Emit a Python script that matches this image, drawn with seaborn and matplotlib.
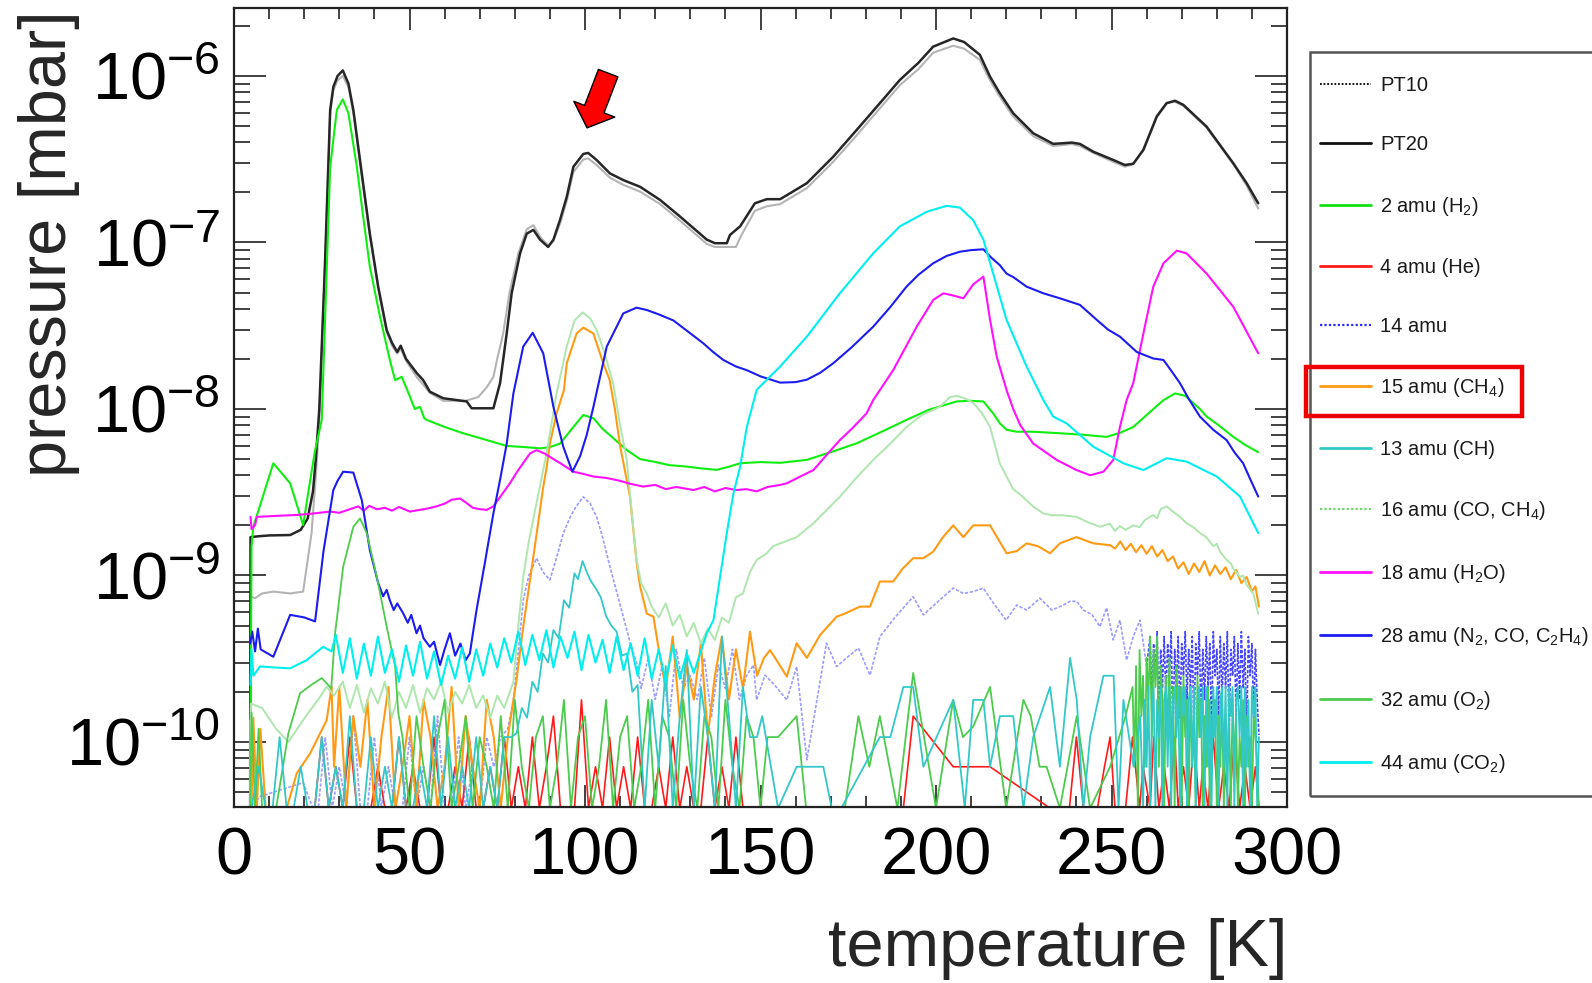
import matplotlib
matplotlib.use("Agg")
import matplotlib.pyplot as plt
import seaborn as sns
from matplotlib.lines import Line2D
from matplotlib.patches import Rectangle, FancyArrowPatch
from matplotlib.ticker import FixedLocator, LogLocator, LogFormatterMathtext, MultipleLocator, NullFormatter

# ---------------- data (temperature [K], pressure [mbar]) ----------------
Z = 4.0e-11      # reading at / below the axis floor
Q2, Q3, Q4, Q5, Q6 = 7.1e-11, 1.07e-10, 1.43e-10, 1.79e-10, 2.14e-10
Q7, Q8, Q9, Q10, Q12 = 2.5e-10, 2.86e-10, 3.2e-10, 3.57e-10, 4.3e-10

x_ticks = [0, 50, 100, 150, 200, 250, 300]
y_ticks = [1e-10, 1e-9, 1e-8, 1e-7, 1e-6]

pt20 = [(4.6, Z), (4.7, 1.7e-9), (7, 1.72e-9), (10, 1.74e-9), (16, 1.75e-9), (19, 1.88e-9), (21, 2.2e-9),
        (22.5, 3.2e-9), (23.3, 5e-9), (24.3, 1.0e-8), (25.9, 7.2e-8), (27.4, 6.25e-7), (28.3, 8.6e-7),
        (29.5, 1.0e-6), (31.0, 1.08e-6), (32.6, 9.0e-7), (34.0, 6.25e-7), (36.4, 2.6e-7), (38.7, 1.13e-7),
        (41.1, 5.4e-8), (43.5, 2.98e-8), (45.0, 2.5e-8), (46.5, 2.2e-8), (47.5, 2.4e-8), (49.0, 2.0e-8),
        (52.1, 1.64e-8), (53.9, 1.49e-8), (55.8, 1.27e-8), (59.6, 1.16e-8), (66.3, 1.11e-8), (67.7, 1.01e-8),
        (73.9, 1.01e-8), (75.8, 1.43e-8), (77.7, 2.85e-8), (79.1, 4.95e-8), (81.5, 8.6e-8), (83.4, 1.13e-7),
        (85.3, 1.19e-7), (87.2, 1.04e-7), (89.5, 9.4e-8), (91.0, 1.04e-7), (92.9, 1.37e-7), (94.8, 1.88e-7),
        (96.7, 2.85e-7), (99.5, 3.4e-7), (100.9, 3.45e-7), (103.3, 3.13e-7), (107.1, 2.6e-7), (110.9, 2.37e-7),
        (115.7, 2.16e-7), (121.4, 1.80e-7), (127.1, 1.43e-7), (134.7, 1.04e-7), (137.0, 9.9e-8), (140.4, 9.9e-8),
        (141.3, 1.11e-7), (144.2, 1.25e-7), (148.4, 1.72e-7), (151.8, 1.82e-7), (155.6, 1.82e-7), (163.2, 2.27e-7),
        (170.7, 3.27e-7), (177.4, 4.74e-7), (184.0, 6.86e-7), (189.7, 9.46e-7), (195.0, 1.2e-6), (199.2, 1.50e-6),
        (204.9, 1.68e-6), (208.0, 1.6e-6), (212.5, 1.34e-6), (215.4, 9.9e-7), (218.2, 7.87e-7), (222.0, 5.97e-7),
        (227.7, 4.53e-7), (233.4, 3.91e-7), (238.7, 3.98e-7), (241.0, 3.91e-7), (244.8, 3.51e-7), (250.5, 3.13e-7),
        (253.8, 2.92e-7), (256.2, 2.97e-7), (259.1, 3.6e-7), (262.9, 5.7e-7), (265.7, 6.86e-7), (268.1, 7.1e-7),
        (270.5, 6.7e-7), (277.1, 4.96e-7), (284.7, 2.99e-7), (288.5, 2.27e-7), (291.8, 1.72e-7)]

pt10 = [(4.6, Z), (4.7, 7.5e-10), (6, 7.3e-10), (8, 7.8e-10), (11.2, 8.0e-10), (16, 7.8e-10), (19.7, 8.0e-10),
        (22.1, 1.8e-9), (23.5, 4.5e-9), (24.3, 8.6e-9), (25.9, 7.0e-8), (27.4, 6.0e-7), (28.3, 8.2e-7),
        (29.5, 9.4e-7), (31, 1.0e-6), (32.6, 8.6e-7), (34, 6.0e-7), (36.4, 2.5e-7), (38.7, 1.1e-7), (41.1, 5.3e-8),
        (43.5, 2.9e-8), (45, 2.4e-8), (46.5, 2.15e-8), (47.5, 2.3e-8), (49, 1.95e-8), (52.1, 1.55e-8),
        (53.9, 1.4e-8), (55.8, 1.25e-8), (59.6, 1.12e-8), (66, 1.12e-8), (69.6, 1.18e-8), (72, 1.35e-8),
        (73.9, 1.56e-8), (75, 2.0e-8), (76.7, 2.85e-8), (78.5, 5.0e-8), (81, 8.6e-8), (83.4, 1.2e-7),
        (85.3, 1.27e-7), (87.2, 1.08e-7), (89.5, 9.6e-8), (91, 1.02e-7), (92.9, 1.3e-7), (94.8, 1.78e-7),
        (96.7, 2.65e-7), (99.5, 3.15e-7), (100.9, 3.2e-7), (103.3, 2.92e-7), (107.1, 2.45e-7), (110.9, 2.22e-7),
        (115.7, 2.02e-7), (121.4, 1.7e-7), (127.1, 1.35e-7), (134.7, 9.8e-8), (137, 9.4e-8), (140.4, 9.4e-8),
        (143, 9.4e-8), (144.5, 1.1e-7), (148.4, 1.55e-7), (151.8, 1.65e-7), (155.6, 1.7e-7), (163.2, 2.12e-7),
        (170.7, 3.05e-7), (177.4, 4.4e-7), (184, 6.4e-7), (189.7, 8.8e-7), (195, 1.1e-6), (199.2, 1.38e-6),
        (204.9, 1.52e-6), (208, 1.46e-6), (212.5, 1.25e-6), (215.4, 9.4e-7), (218.2, 7.5e-7), (222, 5.7e-7),
        (227.7, 4.35e-7), (233.4, 3.8e-7), (238.7, 3.9e-7), (241, 3.8e-7), (244.8, 3.45e-7), (250.5, 3.05e-7),
        (253.8, 2.85e-7), (256.2, 2.95e-7), (259.1, 3.65e-7), (262.9, 5.8e-7), (265.7, 6.9e-7), (268.1, 7.0e-7),
        (270.5, 6.6e-7), (277.1, 4.9e-7), (284.7, 2.95e-7), (288.5, 2.2e-7), (291.8, 1.6e-7)]

h2 = [(4.6, Z), (5, 1.49e-9), (5.5, 1.96e-9), (11.2, 4.72e-9), (16, 3.58e-9), (19.7, 2.01e-9), (21.5, 3.5e-9),
      (23, 5.5e-9), (25, 8.6e-9), (26.2, 5e-8), (27.4, 2.85e-7), (29.3, 6.25e-7), (31, 7.24e-7), (32.6, 5.97e-7),
      (35, 2.85e-7), (36.8, 1.43e-7), (38.7, 7.16e-8), (41.6, 3.58e-8), (44.4, 1.97e-8), (45.9, 1.49e-8),
      (47.8, 1.56e-8), (50.1, 1.19e-8), (51.5, 1.0e-8), (53, 1.03e-8), (54.2, 8.8e-9), (54.9, 8.6e-9),
      (60, 7.8e-9), (65.3, 7.15e-9), (71, 6.6e-9), (77.7, 6.0e-9), (83, 5.9e-9), (87.2, 5.8e-9), (90, 5.9e-9),
      (92.9, 6.2e-9), (96.7, 7.8e-9), (99.5, 9.2e-9), (102.4, 8.8e-9), (105, 7.6e-9), (108.1, 6.67e-9),
      (111.9, 5.67e-9), (115.7, 5.0e-9), (119.5, 4.83e-9), (124, 4.6e-9), (129, 4.51e-9), (133, 4.4e-9),
      (137.5, 4.31e-9), (141, 4.5e-9), (144.2, 4.72e-9), (150, 4.8e-9), (155.6, 4.75e-9), (163.2, 4.95e-9),
      (170, 5.5e-9), (177.4, 6.22e-9), (184.5, 7.3e-9), (191.6, 8.6e-9), (198, 9.9e-9), (205.9, 1.11e-8),
      (209.5, 1.12e-8), (213.5, 1.11e-8), (216.3, 9.4e-9), (218.2, 8.2e-9), (220.1, 7.5e-9), (223, 7.3e-9),
      (227.7, 7.3e-9), (235.3, 7.15e-9), (242, 7.0e-9), (248.6, 6.8e-9), (252.5, 7.2e-9), (256.2, 7.8e-9),
      (260, 9.2e-9), (264.8, 1.13e-8), (268.1, 1.24e-8), (271, 1.2e-8), (275.2, 1.0e-8), (277.1, 9.0e-9),
      (280.5, 8.0e-9), (284.7, 6.8e-9), (288, 6.1e-9), (291.8, 5.5e-9)]

he_t1 = [5, 7, 9, 11, 13, 15, 17, 19, 21, 23, 25, 27, 29, 31, 33, 35, 37, 39, 41, 43, 45, 47, 49, 51, 53,
         55, 57, 59, 61, 63, 65, 67, 69, 71, 73, 75, 77, 79, 81, 83, 85, 87, 89, 91, 93, 95, 97, 99, 101, 103,
         105, 107, 109, 111, 113, 115, 117, 119, 121, 123, 125, 127, 129, 131, 133, 135, 137, 139, 141, 143,
         145, 147, 149]
he_v1 = [Z, Z, Z, Z, Z, Z, Z, Z, Z, Z,
         Q3, Z, Q2, Z, Q3, Z, Z, Z, Q2, Z,
         Z, Q3, Z, Q2, Z, Z, Q3, Z, Z, Q2,
         Z, Q3, Z, Z, Q2, Z, Q3, Z, Q2, Z,
         Q3, Z, Q2, Q4, Z, Z, Z, Q5, Z, Q2,
         Z, Q3, Z, Q2, Z, Q3, Z, Z, Q2, Z,
         Q3, Z, Q2, Z, Z, Q3, Z, Q2, Z, Q3,
         Z, Z, Z]
he_rest = [(151, Z), (190.7, Z), (193.5, Q4), (204.9, Q2), (215.4, Q2), (232.5, Z), (238, Z), (240, Q3),
           (242, Z), (246, Z), (248, Q2), (249.6, Q3), (251, Z), (254, Z), (256, Q3), (258, Z), (259, Q2),
           (261, Z), (262, Q3), (263.5, Z), (265, Q2), (266.5, Z), (268, Q3), (269, Z), (270.5, Q2), (272, Z),
           (273.5, Q3), (275, Z), (276, Q2), (277.5, Z), (279, Q3), (280.5, Z), (282, Q2), (283.5, Z),
           (285, Q3), (286.5, Z), (288, Q2), (289.5, Z), (291, Q2), (292, Z)]

n14_low = [(4.6, Z), (7.4, 4.7e-11), (19.7, 5.7e-11), (22.5, Z)]
n14_t1 = [24, 26, 28, 30, 32, 34, 36, 38, 40, 42, 44, 46, 48, 50, 52, 54, 56, 58, 60, 62, 64, 66, 68, 70, 72,
          74, 76]
n14_v1 = [Z, Q3, Z, Q2, Z, Q4, Z, Z, Q3, Z, Q2, Z, Z, Q3, Z, Q2, Z, Q4, Z, Z, Q3, Z, Q2, Z, Q3, Q2, Q3]
n14_hump = [(78, 1.2e-10), (79.6, 1.79e-10), (81, 3.5e-10), (82.4, 7.1e-10), (84, 1.0e-9), (86.2, 1.27e-9),
            (88, 1.05e-9), (90, 9.4e-10), (92, 1.3e-9), (93.8, 1.79e-9), (96, 2.3e-9), (97.5, 2.6e-9),
            (99.5, 2.97e-9), (101.5, 2.7e-9), (103.3, 2.25e-9), (105, 1.7e-9), (107.1, 1.13e-9), (109, 8.0e-10),
            (110.9, 5.66e-10), (112.8, 4.0e-10), (114.7, 2.97e-10)]
n14_t2 = [116, 118, 120, 122, 124, 126, 128, 130, 132, 134, 136, 138, 140, 142, 144, 146, 148]
n14_v2 = [2.1e-10, 3.2e-10, 1.8e-10, 2.9e-10, 1.4e-10, 3.6e-10, 2.1e-10, 2.5e-10, 1.8e-10, 3.2e-10, 1.4e-10,
          2.9e-10, 2.1e-10, 3.6e-10, 1.8e-10, 2.5e-10, 2.9e-10]
n14_mid = [(148.9, 1.79e-10), (151.3, 2.52e-10), (154, 2.2e-10), (157.5, 1.79e-10), (160.3, 2.84e-10),
           (163.2, 7.8e-11), (168.8, 3.92e-10), (171.7, 2.84e-10), (174.5, 3.2e-10), (177.9, 3.66e-10),
           (181.2, 2.52e-10), (184, 4.28e-10), (188, 5.5e-10), (193.5, 7.46e-10), (196.4, 5.8e-10),
           (200, 6.8e-10), (204.9, 8.4e-10), (207.8, 7.8e-10), (210.5, 8.0e-10), (213.5, 8.4e-10), (216, 7.0e-10),
           (219.2, 5.66e-10), (220, 5.4e-10), (223, 6.65e-10), (225.8, 6.2e-10), (229.6, 7.3e-10), (233, 6.2e-10),
           (236, 6.6e-10), (238.2, 7.0e-10), (240, 7.0e-10), (242, 6.2e-10), (244.5, 5.8e-10), (246.7, 4.93e-10),
           (248.6, 6.4e-10), (250.5, 4.1e-10), (252.4, 5.4e-10), (254.3, 3.1e-10), (256.2, 4.3e-10),
           (258.1, 5.4e-10), (260, 2.84e-10)]
n14_t3 = [260, 261, 261.5, 262, 262.5, 263, 263.5, 264, 264.5, 265, 265.5, 266, 266.5, 267, 267.5, 268, 268.5,
          269, 269.5, 270, 270.5, 271, 271.5, 272, 272.5, 273, 273.5, 274, 274.5, 275, 275.5, 276, 276.5, 277,
          277.5, 278, 278.5, 279, 279.5, 280, 280.5, 281, 281.5, 282, 282.5, 283, 283.5, 284, 284.5, 285, 285.5,
          286, 286.5, 287, 287.5, 288, 288.5, 289, 289.5, 290, 290.5, 291, 291.5, 292]
n14_v3 = [2.84e-10,
          4.3e-10, 1.8e-10, 3.9e-10, 2.5e-10, 4.6e-10, 1.4e-10, 3.6e-10, 2.1e-10, 4.3e-10, 1.8e-10,
          3.9e-10, 2.5e-10, 4.6e-10, 1.1e-10, 3.6e-10, 2.1e-10, 4.3e-10, 1.4e-10, 3.9e-10, 2.5e-10,
          4.6e-10, 1.8e-10, 3.6e-10, 2.1e-10, 4.3e-10, 1.1e-10, 3.9e-10, 2.5e-10, 4.6e-10, 1.4e-10,
          3.6e-10, 1.8e-10, 4.3e-10, 2.1e-10, 3.9e-10, 1.1e-10, 4.6e-10, 2.5e-10, 3.6e-10, 1.4e-10,
          4.3e-10, 1.8e-10, 3.9e-10, 2.1e-10, 4.6e-10, 1.1e-10, 3.6e-10, 2.5e-10, 4.3e-10, 1.4e-10,
          3.9e-10, 1.8e-10, 4.6e-10, 2.1e-10, 3.6e-10, 1.1e-10, 4.3e-10, 2.5e-10, 3.9e-10, 1.4e-10,
          3.6e-10, 1.8e-10, 1.1e-10]

ch4_low = [(4.6, 1.35e-10), (5, Z), (5.5, 1.4e-10), (6.5, Z), (7.5, 1.2e-10), (9, Z), (15, Z), (17.9, 6.5e-11),
           (21.7, 8.55e-11), (26.4, 1.35e-10), (27.8, 2.15e-10), (28.5, Q2)]
ch4_t1 = [30, 32, 34, 36, 38, 40, 42, 44, 46, 48, 50, 52, 54, 56, 58, 60, 62, 64, 66, 68, 70, 72, 74, 76, 78]
ch4_v1 = [Q6, Z, Q4, Q2, Q5, Z, Q3, Q6, Z, Q2, Q4, Z, Q5, Q3, Z, Q2, Q6, Z, Q4, Q2, Z, Q5, Q3, Z, Q3]
ch4_peak = [(80.5, 2.36e-10), (82.4, 4.93e-10), (85.3, 1.3e-9), (88.1, 3.4e-9), (89.1, 4.5e-9), (90, 6.2e-9),
            (91.9, 9.4e-9), (94, 1.3e-8), (94.8, 1.88e-8), (97.6, 2.84e-8), (99.5, 3.08e-8), (102.4, 2.84e-8),
            (105.2, 1.88e-8), (107, 1.5e-8), (108.5, 1.0e-8), (110, 6.0e-9), (112.8, 3.0e-9), (114.7, 1.2e-9),
            (115.7, 8.6e-10), (117.6, 5.9e-10), (119.5, 5.66e-10)]
ch4_t2 = [121, 123, 125, 127, 129, 131, 133, 135, 137, 139, 141, 143, 145, 147, 149]
ch4_v2 = [3.6e-10, 2.1e-10, 4.3e-10, 1.4e-10, 2.9e-10, 1.8e-10, 3.9e-10, 1.1e-10, 2.5e-10, 4.3e-10, 1.8e-10,
          3.6e-10, 2.1e-10, 4.6e-10, 2.5e-10]
ch4_tail = [(151, 3.2e-10), (152.7, 3.56e-10), (155, 3.0e-10), (157.5, 2.47e-10), (160.3, 3.92e-10),
            (163.2, 3.2e-10), (167, 4.4e-10), (171.7, 5.66e-10), (174, 5.9e-10), (178.3, 6.5e-10),
            (181.2, 6.5e-10), (184, 9.2e-10), (187.8, 9.2e-10), (190.5, 1.1e-9), (193.5, 1.27e-9),
            (196.4, 1.27e-9), (199.2, 1.39e-9), (202, 1.7e-9), (204.9, 2.0e-9), (207.8, 1.7e-9), (210.6, 2.0e-9),
            (215.4, 2.0e-9), (220.1, 1.36e-9), (223, 1.4e-9), (225.8, 1.56e-9), (229, 1.5e-9), (232.5, 1.36e-9),
            (235.3, 1.56e-9), (240, 1.7e-9), (244.8, 1.56e-9), (249.6, 1.52e-9), (251, 1.45e-9), (252.5, 1.6e-9),
            (254, 1.42e-9), (255.5, 1.55e-9), (257, 1.38e-9), (258.5, 1.52e-9), (260, 1.35e-9), (261.5, 1.5e-9),
            (263, 1.3e-9), (264.5, 1.42e-9), (266, 1.22e-9), (267.5, 1.3e-9), (269, 1.1e-9), (270.5, 1.2e-9),
            (272, 1.02e-9), (273.5, 1.18e-9), (275, 1.05e-9), (276.5, 1.22e-9), (278, 1.0e-9), (279.5, 1.15e-9),
            (281, 1.02e-9), (282.5, 1.12e-9), (284, 9.5e-10), (285.5, 1.08e-9), (287, 9.0e-10), (288.5, 9.8e-10),
            (290, 8.0e-10), (291, 8.6e-10), (292, 6.5e-10)]

ch_t1 = [5, 7, 9, 11, 13, 15, 17, 19, 21, 23, 25, 27, 29, 31, 33, 35, 37, 39, 41, 43, 45, 47, 49, 51, 53, 55,
         57, 59, 61, 63, 65, 67, 69, 71, 73, 75, 77, 79]
ch_v1 = [Z, Q2, Z, Z, Q3, Z, Z, Q2, Z, Z,
         Q3, Z, Q2, Z, Q4, Z, Z, Q3, Z, Q2,
         Z, Q3, Z, Z, Q2, Z, Q4, Z, Q3, Z,
         Q2, Z, Q3, Z, Q2, Z, Q3, Q3]
ch_hump = [(80.5, 1.13e-10), (82, 1.6e-10), (83.5, 1.4e-10), (85, 2.3e-10), (86.5, 2.0e-10), (88, 3.4e-10),
           (89.5, 3.0e-10), (91, 4.7e-10), (92.5, 4.2e-10), (94, 7.1e-10), (95.5, 6.4e-10), (97, 1.03e-9),
           (98, 9.5e-10), (99.3, 1.22e-9), (100.5, 1.05e-9), (101.5, 9.4e-10), (103, 8.4e-10), (104.5, 7.4e-10),
           (106, 5.7e-10), (107.5, 5.0e-10), (109, 4.6e-10), (110.5, 3.3e-10), (112, 3.4e-10), (113.5, 2.0e-10),
           (115, 2.2e-10)]
ch_t2 = [117, 119, 121, 123, 125, 127, 129, 131, 133, 135, 137, 139, 141, 143, 145, 147, 149]
ch_v2 = [Z, Q5, Q2, Q8, Z, Q4, Q10, Z, Q6, Q3, Z, Q12, Q4, Z, Q6, Q3, Q3]
ch_mid = [(150.5, Q4), (155, Z), (160.3, Q2), (167.9, Q2), (170.3, Z), (173, Z), (184, Q3), (187, Q3),
          (190.7, Q6), (193.5, Q6), (196.4, Q2), (204.9, Q5), (208.2, Z), (210.6, Q5), (213.5, Q5),
          (215.4, Q2), (218.2, Q4), (222, Q4), (224.9, Z), (227.7, Q3), (232.5, Q6), (235.3, Q2), (238.2, Q9),
          (240.1, Q5), (242, Z), (243.9, Q3), (247.7, Q7), (250.6, Q7), (252, Z), (253.4, Q5), (256.3, Q2),
          (258.2, Q4)]
ch_t3 = [259, 259.5, 260, 260.5, 261, 261.5, 262, 262.5, 263, 263.5, 264, 264.5, 265, 265.5, 266, 266.5, 267,
         267.5, 268, 268.5, 269, 269.5, 270, 270.5, 271, 271.5, 272, 272.5, 273, 273.5, 274, 274.5, 275, 275.5,
         276, 276.5, 277, 277.5, 278, 278.5, 279, 279.5, 280, 280.5, 281, 281.5, 282, 282.5, 283, 283.5, 284,
         284.5, 285, 285.5, 286, 286.5, 287, 287.5, 288, 288.5, 289, 289.5, 290, 290.5, 291, 291.5, 292]
ch_v3 = [Z, Q5, Q2, Q6, Z, Q4, Q6, Z, Q5, Q3,
         Q6, Z, Q5, Q6, Q2, Q6, Z, Q5, Q6, Q3,
         Q6, Z, Q6, Q4, Q6, Z, Q5, Q6, Q2, Q6,
         Z, Q5, Q6, Q3, Q6, Z, Q6, Q2, Q5, Z,
         Q6, Q3, Q6, Z, Q5, Q6, Q2, Q6, Z, Q6,
         Q4, Q6, Z, Q5, Q6, Q3, Q6, Z, Q6, Q2,
         Q5, Z, Q6, Q4, Q6, Z, Q3]

co_low = [(4.6, Z), (4.8, 1.7e-10), (8, 1.6e-10), (12, 1.2e-10), (15.5, 1.0e-10), (18, 1.2e-10),
          (20.7, 1.45e-10), (24, 1.8e-10), (26.4, 2.15e-10), (28.5, 1.9e-10), (31, 2.3e-10)]
co_t1 = [33, 35, 37, 39, 41, 43, 45, 47, 49, 51, 53, 55, 57, 59, 61, 63, 65, 67, 69, 71, 73, 75, 77]
co_v1 = [1.6e-10, 2.2e-10, 1.5e-10, 2.1e-10, 1.7e-10, 2.3e-10, 1.4e-10, 2.0e-10, 1.6e-10, 2.2e-10, 1.5e-10,
         2.1e-10, 1.8e-10, 2.3e-10, 1.5e-10, 2.0e-10, 1.7e-10, 2.2e-10, 1.6e-10, 1.9e-10, 1.4e-10, 1.9e-10,
         1.6e-10]
co_rest = [(79.6, 2.3e-10), (81, 5e-10), (82.4, 9.8e-10), (84, 1.6e-9), (86, 2.6e-9), (88, 4.2e-9),
           (89.1, 5.5e-9), (91.9, 1.24e-8), (94.8, 2.37e-8), (97, 3.4e-8), (99.3, 3.8e-8), (101.5, 3.5e-8),
           (103.3, 2.98e-8), (105.5, 2.2e-8), (108.1, 1.4e-8), (110, 8e-9), (111.9, 4.95e-9), (113.3, 2.4e-9),
           (114.7, 1.24e-9), (116, 9e-10), (117.6, 7.8e-10), (119, 6.5e-10), (121, 5.6e-10), (123, 6.8e-10),
           (125, 5.0e-10), (127, 5.8e-10), (129, 4.3e-10), (131, 5.2e-10), (133, 3.9e-10), (135, 4.8e-10),
           (137, 4.1e-10), (139, 5.6e-10), (141, 5.2e-10), (143, 7.4e-10), (145, 7.8e-10), (147, 1.05e-9),
           (148.9, 1.24e-9), (151.8, 1.36e-9), (153.6, 1.5e-9), (157, 1.6e-9), (160.3, 1.7e-9), (165.1, 2.06e-9),
           (172.6, 2.97e-9), (177, 3.8e-9), (182.1, 4.94e-9), (187, 6.2e-9), (191.6, 7.8e-9), (196, 9.2e-9),
           (201.1, 1.03e-8), (204, 1.18e-8), (206, 1.2e-8), (208.5, 1.15e-8), (210.6, 1.09e-8), (213, 9.5e-9),
           (215.4, 7.8e-9), (218.2, 4.7e-9), (222, 3.3e-9), (224.5, 3.0e-9), (227.7, 2.59e-9), (230.6, 2.36e-9),
           (233, 2.3e-9), (236, 2.3e-9), (240, 2.25e-9), (243, 2.1e-9), (246.7, 1.96e-9), (249.5, 2.05e-9),
           (251, 1.85e-9), (252.4, 1.98e-9), (254, 1.88e-9), (256.2, 2.0e-9), (258, 1.95e-9), (259.5, 2.15e-9),
           (261.9, 2.31e-9), (263, 2.2e-9), (264, 2.5e-9), (265.7, 2.6e-9), (267.6, 2.41e-9), (269.5, 2.25e-9),
           (271.4, 2.06e-9), (273.3, 1.95e-9), (275.2, 1.8e-9), (277, 1.7e-9), (279, 1.5e-9), (280, 1.55e-9),
           (281, 1.38e-9), (282.8, 1.24e-9), (284, 1.18e-9), (284.7, 1.1e-9), (286.6, 9.8e-10), (287.5, 1.0e-9),
           (288.5, 8.8e-10), (290.4, 7.8e-10), (291.8, 5.9e-10)]

h2o = [(4.7, 2.25e-9), (5, 1.9e-9), (6, 2.0e-9), (6.5, 2.25e-9), (12, 2.28e-9), (17.9, 2.31e-9), (22, 2.35e-9),
       (27.4, 2.42e-9), (30, 2.38e-9), (33, 2.5e-9), (35.4, 2.6e-9), (37, 2.45e-9), (38.5, 2.62e-9),
       (40.7, 2.5e-9), (43, 2.55e-9), (45, 2.45e-9), (47, 2.58e-9), (50.1, 2.42e-9), (53, 2.48e-9),
       (55, 2.52e-9), (57.7, 2.6e-9), (60, 2.7e-9), (62, 2.85e-9), (64.4, 2.9e-9), (66, 2.75e-9), (68, 2.55e-9),
       (70.1, 2.5e-9), (72, 2.48e-9), (73.9, 2.6e-9), (76, 3.0e-9), (78.6, 3.58e-9), (81, 4.3e-9),
       (84.3, 5.4e-9), (86.2, 5.66e-9), (88.5, 5.4e-9), (91, 5.0e-9), (93, 4.72e-9), (96.7, 4.2e-9),
       (99, 4.1e-9), (102.4, 3.93e-9), (106.2, 3.85e-9), (110, 3.7e-9), (113, 3.55e-9), (116.6, 3.42e-9),
       (120, 3.5e-9), (123, 3.3e-9), (126, 3.4e-9), (130.9, 3.26e-9), (134, 3.4e-9), (137, 3.2e-9),
       (140, 3.35e-9), (143.2, 3.26e-9), (146, 3.3e-9), (148.9, 3.2e-9), (152, 3.4e-9), (155.6, 3.5e-9),
       (157.5, 3.58e-9), (161, 3.9e-9), (165.1, 4.3e-9), (168.5, 5.2e-9), (172.6, 6.5e-9), (176, 7.6e-9),
       (180.2, 9.4e-9), (182.1, 1.13e-8), (187.8, 1.71e-8), (194.5, 3.12e-8), (199.2, 4.52e-8),
       (202.1, 4.95e-8), (205, 4.8e-8), (207.8, 4.62e-8), (210.6, 5.6e-8), (213.5, 6.24e-8), (215.4, 3.43e-8),
       (217.3, 2.06e-8), (220.1, 1.3e-8), (222, 1.0e-8), (224, 8.0e-9), (227.7, 6.2e-9), (234.4, 4.94e-9),
       (240, 4.3e-9), (243.9, 4.0e-9), (247.7, 4.2e-9), (250.5, 4.94e-9), (252.4, 7.8e-9), (254.3, 1.13e-8),
       (256.2, 1.43e-8), (259.1, 2.85e-8), (261.9, 5.43e-8), (264.8, 7.5e-8), (268.6, 8.93e-8), (271.4, 8.6e-8),
       (277.1, 6.5e-8), (284.7, 4.11e-8), (291.8, 2.16e-8)]

n2 = [(4.6, 3.9e-10), (5.2, 4.6e-10), (6, 3.5e-10), (6.8, 4.8e-10), (7.6, 3.6e-10), (11.2, 3.25e-10),
      (16, 5.8e-10), (20, 5.6e-10), (23.1, 5.3e-10), (25.5, 1.4e-9), (28.3, 3.26e-9), (29.5, 3.7e-9),
      (31.1, 4.2e-9), (34, 4.15e-9), (36.4, 2.84e-9), (38.7, 1.42e-9), (41.1, 8.97e-10), (42.5, 7.5e-10),
      (43.5, 8.2e-10), (44.4, 7.1e-10), (45.5, 6.2e-10), (46.5, 6.8e-10), (48.2, 5.93e-10), (49.5, 5.2e-10),
      (50.5, 5.8e-10), (52, 4.5e-10), (53, 5.0e-10), (54, 4.2e-10), (55.8, 3.73e-10), (57, 4.0e-10),
      (58.7, 2.9e-10), (60, 3.6e-10), (61.5, 4.5e-10), (63, 3.3e-10), (64.5, 3.9e-10), (66, 3.1e-10),
      (67.2, 3.4e-10), (68, 4.4e-10), (69.1, 6.2e-10), (71.5, 1.2e-9), (73.9, 2.36e-9), (75.8, 3.75e-9),
      (77.7, 6.2e-9), (79.6, 1.24e-8), (82.4, 2.37e-8), (85.1, 2.87e-8), (88.1, 2.16e-8), (91, 1.03e-8),
      (93.8, 5.94e-9), (96.4, 4.2e-9), (98.6, 5.2e-9), (100.5, 7.0e-9), (102.4, 1.03e-8), (106.2, 2.37e-8),
      (110.9, 3.75e-8), (114.7, 4.06e-8), (117.6, 3.93e-8), (121, 3.7e-8), (125.2, 3.4e-8), (129.5, 2.9e-8),
      (133.7, 2.48e-8), (136.5, 2.2e-8), (139.4, 1.97e-8), (143, 1.8e-8), (146.1, 1.71e-8), (150, 1.57e-8),
      (155.6, 1.44e-8), (160, 1.45e-8), (163.2, 1.5e-8), (167, 1.65e-8), (170.7, 1.88e-8), (176, 2.35e-8),
      (182.1, 3.12e-8), (187, 4.1e-8), (191.6, 5.43e-8), (195, 6.4e-8), (199.2, 7.5e-8), (203, 8.3e-8),
      (206.8, 8.8e-8), (210, 9.0e-8), (213.5, 9.1e-8), (215.5, 8.2e-8), (218.2, 7.3e-8), (220.1, 6.5e-8),
      (222, 6.2e-8), (225.8, 5.43e-8), (230.6, 4.95e-8), (235.3, 4.62e-8), (241, 4.22e-8), (245.8, 3.43e-8),
      (249, 3.0e-8), (252.4, 2.72e-8), (257.2, 2.2e-8), (261.9, 2.01e-8), (264.8, 1.97e-8), (267, 1.7e-8),
      (269.5, 1.43e-8), (272, 1.15e-8), (275.2, 9.0e-9), (279, 7.5e-9), (282.8, 6.5e-9), (285, 5.5e-9),
      (287.5, 4.72e-9), (289.5, 3.8e-9), (291.8, 2.98e-9)]

o2_low = [(4.6, Z), (5, 1.5e-10), (6, Z), (7, 1.2e-10), (8, Z), (12, Z), (15.5, 1.13e-10), (18.8, 1.96e-10),
          (22, 2.2e-10), (25, 2.42e-10), (27.7, 2.1e-10), (28.8, 4.5e-10), (31.1, 1.13e-9), (34, 1.96e-9),
          (35.9, 2.2e-9), (37.8, 1.8e-9), (40.7, 9.8e-10), (43.5, 4.93e-10), (45.9, 2.84e-10), (46.8, 1.5e-10)]
o2_t1 = [48, 50, 52, 54, 56, 58, 60, 62, 64, 66, 68, 70, 72, 74, 76, 78, 80, 82, 84, 86, 88, 90, 92, 94, 96,
         98, 100, 102, 104, 106, 108, 110, 112, 114, 116, 118, 120, 122, 124, 126, 128, 130, 132, 134, 136, 138,
         140, 142, 144, 146, 148, 150]
o2_v1 = [Q3, Z, Q4, Q2, Z, Q3, Q5, Z, Q2, Q4,
         Z, Q3, Q2, Z, Q4, Z, Q5, Q2, Z, Q3,
         Q4, Z, Q2, Q5, Z, Q3, Q4, Z, Q2, Q5,
         Z, Q3, Q4, Z, Q2, Q5, Z, Q4, Q3, Z,
         Q5, Q2, Z, Q4, Q3, Z, Q5, Q2, Z, Q4,
         Q3, Z]
o2_mid = [(152, Q3), (155, Q3), (160.3, Q4), (163, Z), (168, Z), (174, Z), (177.9, Q4), (181, Q2), (184, Q4),
          (189, Z), (193.5, 2.6e-10), (200, Z), (204.9, Q5), (207.7, Q3), (210.6, 1.24e-10), (215.4, Q6),
          (220, Z), (224.9, Q5), (227, Q4), (229.5, Q2), (231.5, Q2), (235.3, Z), (240.1, Q4), (243.9, Z),
          (249.6, Q2), (254, Q4)]
o2_t2 = [256, 256.5, 257, 257.5, 258, 258.5, 259, 259.5, 260, 260.5, 261, 261.5, 262, 262.5, 263, 263.5, 264,
         264.5, 265, 265.5, 266, 266.5, 267, 267.5, 268, 268.5, 269, 269.5, 270, 270.5, 271, 271.5, 272, 272.5,
         273, 273.5, 274, 274.5, 275, 275.5, 276, 276.5, 277, 277.5, 278, 278.5, 279, 279.5, 280, 280.5, 281,
         281.5, 282, 282.5, 283, 283.5, 284, 284.5, 285, 285.5, 286, 286.5, 287, 287.5, 288, 288.5, 289, 289.5,
         290, 290.5, 291, 291.5, 292]
o2_v2 = [Q6, Q2, Q8, Z, Q10, Q4, Q7, Q2, Q9, Q5,
         Q12, Q3, Q10, Q6, Q12, Q2, Q8, Q5, Z, Q7,
         Q3, Q9, Q2, Q6, Z, Q8, Q4, Q6, Z, Q7,
         Q3, Q5, Z, Q6, Q2, Q4, Z, Q7,
         Q3, Q5, Z, Q4, Q2, Q6, Z, Q4, Q3, Q5,
         Z, Q4, Q2, Q5, Z, Q3, Q2, Q4, Z, Q5,
         Q2, Q4, Z, Q3, Q2, Q5, Z, Q4, Q2, Q3,
         Z, Q4, Q3, Q2, Z]

co2_low = [(4.7, 2.2e-10), (5, 3.6e-10), (5.5, 2.5e-10), (7.4, 2.84e-10), (12, 2.8e-10), (16, 2.77e-10),
           (20.7, 3.1e-10), (25.4, 3.73e-10), (27.8, 3.5e-10)]
co2_t1 = [29, 31, 33, 35, 37, 39, 41, 43, 45, 47, 49, 51, 53, 55, 57, 59, 61, 63, 65, 67, 69, 71, 73, 75, 77,
          79, 81, 83, 85, 87, 89, 91, 93, 95, 97, 99, 101, 103, 105, 107, 109, 111, 113, 115, 117, 119, 121,
          123, 125, 127, 129, 131, 133]
co2_v1 = [4.4e-10, 2.6e-10, 4.2e-10, 2.4e-10, 3.9e-10, 2.5e-10, 4.3e-10, 2.6e-10, 3.6e-10, 2.3e-10,
          3.8e-10, 2.5e-10, 4.0e-10, 2.4e-10, 3.5e-10, 2.2e-10, 3.3e-10, 2.4e-10, 3.7e-10, 2.3e-10,
          3.6e-10, 2.5e-10, 3.9e-10, 2.8e-10, 4.2e-10, 3.0e-10, 4.6e-10, 2.9e-10, 4.4e-10, 3.1e-10,
          4.7e-10, 2.8e-10, 4.3e-10, 3.2e-10, 4.6e-10, 2.7e-10, 4.4e-10, 3.0e-10, 4.1e-10, 2.6e-10,
          4.3e-10, 2.7e-10, 3.9e-10, 2.5e-10, 4.2e-10, 2.4e-10, 3.6e-10, 2.3e-10, 3.8e-10, 2.4e-10,
          3.4e-10, 2.6e-10, 3.5e-10]
co2_rest = [(134.7, 4.5e-10), (136.6, 5.4e-10), (140.4, 1.8e-9), (142.3, 3.12e-9), (144.2, 4.5e-9),
            (146.1, 7.8e-9), (148.9, 1.3e-8), (151.8, 1.5e-8), (155.6, 1.8e-8), (163.2, 2.72e-8),
            (172.6, 4.95e-8), (182.1, 8.6e-8), (189.7, 1.25e-7), (197.4, 1.53e-7), (203, 1.66e-7),
            (206.8, 1.62e-7), (210.6, 1.36e-7), (213.5, 1.04e-7), (216.3, 6.5e-8), (220.1, 3.43e-8),
            (225.8, 1.8e-8), (230.6, 1.13e-8), (233.4, 9.0e-9), (237.2, 8.2e-9), (244.8, 5.94e-9),
            (253.4, 4.72e-9), (259.1, 4.3e-9), (265.7, 5.06e-9), (271.4, 4.83e-9), (280, 3.93e-9),
            (286.6, 2.98e-9), (291.8, 1.8e-9)]

labels = ["PT10", "PT20", "2 amu (H$_2$)", "4 amu (He)", "14 amu", "15 amu (CH$_4$)", "13 amu (CH)",
          "16 amu (CO, CH$_4$)", "18 amu (H$_2$O)", "28 amu (N$_2$, CO, C$_2$H$_4$)", "32 amu (O$_2$)",
          "44 amu (CO$_2$)"]

# arrow annotation (data coordinates: tail -> tip)
arrow_tail = (106.6, 1.04e-6)
arrow_tip = (100.6, 4.88e-7)

# ---------------- assemble ----------------
def join(*parts):
    out = []
    for p in parts:
        out.extend(p)
    return out

series = [
    (pt10, dict(color="#b4b4b4", linewidth=1.5)),
    (pt20, dict(color="#262626", linewidth=1.8)),
    (h2, dict(color="#10ee10", linewidth=1.5)),
    (join(list(zip(he_t1, he_v1)), he_rest), dict(color="#ff1a1a", linewidth=1.2)),
    (join(n14_low, list(zip(n14_t1, n14_v1)), n14_hump, list(zip(n14_t2, n14_v2)), n14_mid),
     dict(color="#5a5aff", linewidth=1.2, alpha=0.6, linestyle=(0, (2, 1)))),
    (list(zip(n14_t3, n14_v3)), dict(color="#2424ff", linewidth=1.2, alpha=0.85, linestyle=(0, (2, 1)))),
    (join(ch4_low, list(zip(ch4_t1, ch4_v1)), ch4_peak, list(zip(ch4_t2, ch4_v2)), ch4_tail),
     dict(color="#ff9a14", linewidth=1.5)),
    (join(co_low, list(zip(co_t1, co_v1)), co_rest), dict(color="#aee6ae", linewidth=1.4)),
    (h2o, dict(color="#ff10ff", linewidth=1.5)),
    (n2, dict(color="#1c1cf0", linewidth=1.5)),
    (join(o2_low, list(zip(o2_t1, o2_v1)), o2_mid, list(zip(o2_t2, o2_v2))), dict(color="#4ccb4c", linewidth=1.3)),
    (join(list(zip(ch_t1, ch_v1)), ch_hump, list(zip(ch_t2, ch_v2)), ch_mid, list(zip(ch_t3, ch_v3))),
     dict(color="#33c8c8", linewidth=1.3)),
    (join(co2_low, list(zip(co2_t1, co2_v1)), co2_rest), dict(color="#00eeee", linewidth=1.5)),
]

legend_styles = [
    dict(color="black", lw=1.3, ls=(0, (1, 1))),
    dict(color="#111111", lw=2.0),
    dict(color="#10e010", lw=2.0),
    dict(color="#ff1a1a", lw=2.0),
    dict(color="#2a2aff", lw=1.6, ls=(0, (1, 1))),
    dict(color="#ff9a14", lw=2.0),
    dict(color="#33c8c8", lw=2.0),
    dict(color="#66dd66", lw=1.6, ls=(0, (1, 1))),
    dict(color="#ff10ff", lw=2.0),
    dict(color="#1c1cf0", lw=2.0),
    dict(color="#4ccb4c", lw=2.0),
    dict(color="#00eeee", lw=2.0),
]

# ---------------- plotting ----------------
sns.set_style("ticks")
plt.rcParams["font.family"] = ["Liberation Sans", "DejaVu Sans"]
plt.rcParams["mathtext.fontset"] = "custom"
plt.rcParams["mathtext.rm"] = "Liberation Sans"
plt.rcParams["mathtext.it"] = "Liberation Sans:italic"
plt.rcParams["mathtext.bf"] = "Liberation Sans:bold"

fig = plt.figure(figsize=(15.92, 9.83), dpi=100)
ax = fig.add_axes([234 / 1592, 1 - 807 / 983, 1053 / 1592, 799 / 983])
ax.set_yscale("log")
ax.set_xlim(0, 300)
ax.set_ylim(4.07e-11, 2.56e-6)

for data, style in series:
    t = [a for a, _ in data]
    p = [b for _, b in data]
    sns.lineplot(x=t, y=p, ax=ax, estimator=None, sort=False, legend=False, **style)

ax.set_xlim(0, 300)
ax.set_ylim(4.07e-11, 2.56e-6)

ax.xaxis.set_major_locator(FixedLocator(x_ticks))
ax.xaxis.set_minor_locator(MultipleLocator(10))
ax.yaxis.set_major_locator(FixedLocator(y_ticks))
ax.yaxis.set_minor_locator(LogLocator(base=10, subs=(2, 3, 4, 5, 6, 7, 8, 9), numticks=100))
ax.yaxis.set_major_formatter(LogFormatterMathtext())
ax.yaxis.set_minor_formatter(NullFormatter())

ax.tick_params(which="both", direction="in", top=True, right=True, width=1.3, color="#333333",
               labelsize=48, labelcolor="black")
ax.tick_params(axis="x", which="major", length=16, pad=14)
ax.tick_params(axis="x", which="minor", length=8)
ax.tick_params(axis="y", which="major", length=23, pad=10)
ax.tick_params(axis="y", which="minor", length=11.5)
for s in ax.spines.values():
    s.set_linewidth(1.6)
    s.set_color("#222222")

ax.set_xlabel("temperature [K]", fontsize=48, loc="right")
ax.xaxis.set_label_coords(1.0, -0.139)
ax.set_ylabel("pressure [mbar]", fontsize=48, loc="top")
ax.yaxis.set_label_coords(-0.1462, 0.9975)

arrow = FancyArrowPatch(posA=arrow_tail, posB=arrow_tip,
                        arrowstyle="simple,head_length=0.72,head_width=1.58,tail_width=0.75",
                        mutation_scale=20, fc="#ff0000", ec="black", lw=1.0, shrinkA=0, shrinkB=0,
                        transform=ax.transData, zorder=10)
ax.add_patch(arrow)

# legend
handles = [Line2D([], [], **st) for st in legend_styles]
leg = ax.legend(handles, labels, loc="upper left", bbox_to_anchor=(1320 / 1592, 1 - 76 / 983),
                bbox_transform=fig.transFigure, frameon=False, fontsize=14.5, handlelength=2.54,
                handletextpad=0.45, labelspacing=2.0, borderpad=0, borderaxespad=0)
for txt in leg.get_texts():
    txt.set_color("#1a1a1a")

fig.add_artist(Rectangle((1310 / 1592, 1 - 796 / 983), 0.3, (796 - 52) / 983, transform=fig.transFigure,
                         fill=False, ec="#555555", lw=1.8))
fig.add_artist(Rectangle((1306 / 1592, 1 - 416 / 983), 216 / 1592, 49 / 983, transform=fig.transFigure,
                         fill=False, ec="#ee0000", lw=3.2))

fig.savefig("out.png", dpi=100, facecolor="white")
